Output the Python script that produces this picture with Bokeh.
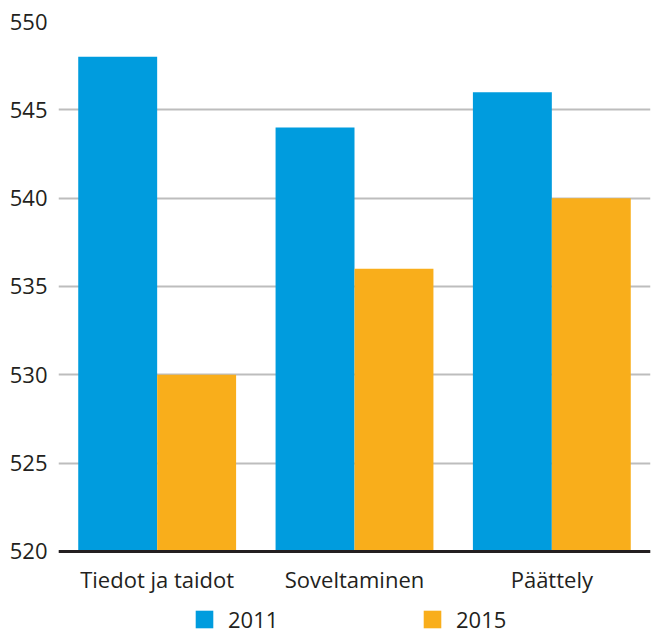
from bokeh.plotting import figure
from bokeh.models import ColumnDataSource, FactorRange, Legend, LegendItem, FixedTicker, Range1d
from bokeh.transform import dodge
from bokeh.embed import file_html
from bokeh.resources import INLINE

categories = ["Tiedot ja taidot", "Soveltaminen", "Päättely"]
series_2011 = [548, 544, 546]
series_2015 = [530, 536, 540]
series_names = ["2011", "2015"]
y_ticks = [520, 525, 530, 535, 540, 545, 550]

BLUE = "#009CDE"
ORANGE = "#F9AE1B"
TEXT = "#231F20"
FONT = "Open Sans"

src = ColumnDataSource(dict(cat=categories, a=series_2011, b=series_2015))

# frame runs to the bottom of the page; the value axis shows 520..550 only
p = figure(x_range=FactorRange(factors=categories, range_padding=0),
           y_range=Range1d(515.3, 550), width=651, height=634,
           output_backend="svg", toolbar_location=None,
           min_border_left=58, min_border_right=1, min_border_top=21, min_border_bottom=0)
p.outline_line_color = None
p.background_fill_color = "white"

r1 = p.vbar(x=dodge("cat", -0.2, range=p.x_range), top="a", bottom=520, width=0.4,
            source=src, color=BLUE, line_color=None)
r2 = p.vbar(x=dodge("cat", 0.2, range=p.x_range), top="b", bottom=520, width=0.4,
            source=src, color=ORANGE, line_color=None)

p.xgrid.grid_line_color = None
p.ygrid.ticker = FixedTicker(ticks=y_ticks)
p.ygrid.grid_line_color = "#BDBDBD"
p.ygrid.grid_line_width = 2
p.ygrid.level = "underlay"

p.yaxis.ticker = FixedTicker(ticks=y_ticks)
p.yaxis.axis_line_color = None
p.yaxis.major_tick_line_color = None
p.yaxis.minor_tick_line_color = None
p.yaxis.major_label_standoff = 5
p.yaxis.major_label_text_font = FONT
p.yaxis.major_label_text_font_size = "22px"
p.yaxis.major_label_text_color = TEXT

p.xaxis.fixed_location = 520
p.xaxis.axis_line_color = "#231F20"
p.xaxis.axis_line_width = 3
p.xaxis.major_tick_line_color = None
p.xaxis.minor_tick_line_color = None
p.xaxis.major_label_standoff = 7
p.xaxis.major_label_text_font = FONT
p.xaxis.major_label_text_font_size = "22px"
p.xaxis.major_label_text_color = TEXT

legend = Legend(items=[LegendItem(label=series_names[0], renderers=[r1]),
                       LegendItem(label=series_names[1], renderers=[r2])],
                orientation="horizontal", location=(135, 0),
                border_line_color=None, background_fill_alpha=0,
                padding=0, margin=0, spacing=0,
                glyph_width=22, glyph_height=22, label_standoff=13, label_width=193,
                label_text_font=FONT, label_text_font_size="22px",
                label_text_color=TEXT)
p.add_layout(legend, "center")

open("out.html", "w").write(file_html(p, INLINE))
